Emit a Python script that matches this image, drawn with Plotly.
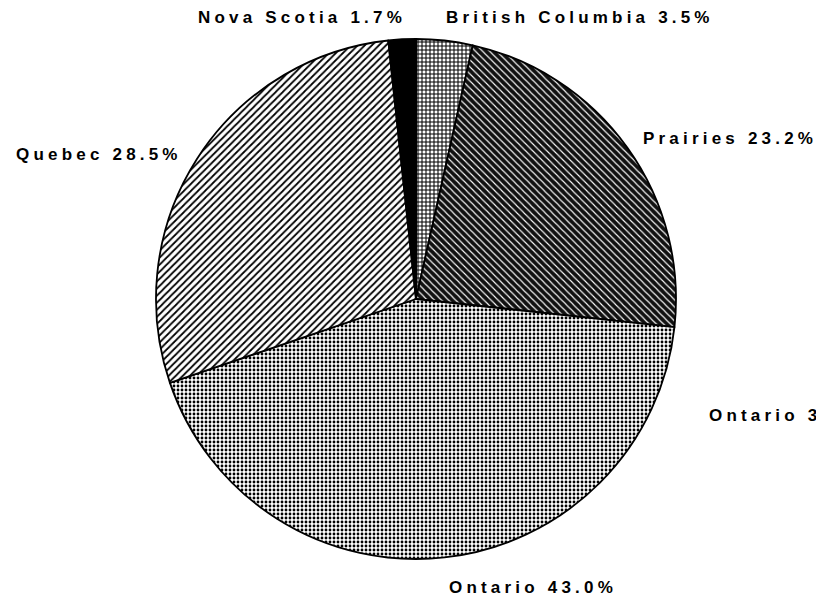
import plotly.graph_objects as go

# ---- data ----
regions = ["British Columbia", "Prairies", "Ontario", "Quebec", "Nova Scotia"]
shares = [3.5, 23.2, 43.0, 28.5, 1.7]
stray_labels = ["Ontario 3"]  # truncated label at the right edge of the scan

# ---- styling ----
slice_colors = ["white", "black", "white", "white", "black"]
pattern_shapes = ["+", "\\", ".", "/", ""]
pattern_fg = ["black", "white", "black", "black", "black"]
pattern_bg = ["white", "#111111", "white", "white", "black"]
pattern_size = [4, 5, 4, 5, 4]
pattern_solidity = [0.45, 0.22, 0.4, 0.35, 0.5]

W, H = 816, 598
cx, cy, r = 416, 299, 260

# label anchor positions in pixels (left edge, vertical centre)
label_pos = [(445, 18), (642, 139), (448, 587), (15, 154), (197, 18)]
stray_pos = [(708, 415)]

fig = go.Figure(
    go.Pie(
        labels=regions,
        values=shares,
        sort=False,
        direction="clockwise",
        rotation=0,
        textinfo="none",
        hoverinfo="label+percent",
        showlegend=False,
        marker=dict(
            colors=slice_colors,
            line=dict(color="black", width=1.8),
            pattern=dict(
                shape=pattern_shapes,
                fgcolor=pattern_fg,
                bgcolor=pattern_bg,
                size=pattern_size,
                solidity=pattern_solidity,
                fillmode="replace",
            ),
        ),
        domain=dict(
            x=[(cx - r) / W, (cx + r) / W],
            y=[(H - cy - r) / H, (H - cy + r) / H],
        ),
    )
)

font = dict(family="Liberation Sans, Arial, sans-serif", size=17, color="black",
            weight="bold")

annotations = []
for name, val, (px, py) in zip(regions, shares, label_pos):
    annotations.append(
        dict(
            text=f"{name} {val:.1f}%",
            x=px / W, y=1 - py / H, xref="paper", yref="paper",
            xanchor="left", yanchor="middle", align="left",
            showarrow=False, font=font, borderpad=0,
        )
    )
for txt, (px, py) in zip(stray_labels, stray_pos):
    annotations.append(
        dict(
            text=txt,
            x=px / W, y=1 - py / H, xref="paper", yref="paper",
            xanchor="left", yanchor="middle", align="left",
            showarrow=False, font=font, borderpad=0,
        )
    )

fig.update_layout(
    width=W, height=H,
    margin=dict(l=0, r=0, t=0, b=0),
    paper_bgcolor="white", plot_bgcolor="white",
    annotations=annotations,
)

post = (
    "var s=document.createElement('style');"
    "s.innerHTML='body{margin:0;overflow:hidden;} .annotation-text{letter-spacing:4.2px;}';"
    "document.head.appendChild(s);"
)
fig.write_html("out.html", post_script=post, config={"displayModeBar": False})
